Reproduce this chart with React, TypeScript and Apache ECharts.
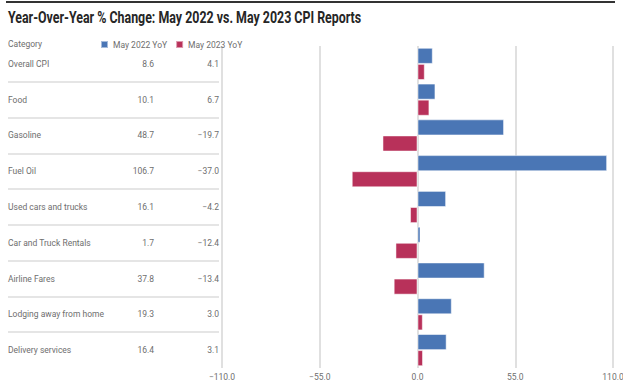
import React, { useEffect, useRef } from "react";
import * as echarts from "echarts";

const categories = [
  "Overall CPI",
  "Food",
  "Gasoline",
  "Fuel Oil",
  "Used cars and trucks",
  "Car and Truck Rentals",
  "Airline Fares",
  "Lodging away from home",
  "Delivery services",
];
const may2022 = [8.6, 10.1, 48.7, 106.7, 16.1, 1.7, 37.8, 19.3, 16.4];
const may2023 = [4.1, 6.7, -19.7, -37.0, -4.2, -12.4, -13.4, 3.0, 3.1];
const seriesNames = ["May 2022 YoY", "May 2023 YoY"];
const xTicks = [-110, -55, 0, 55, 110];
const titleText = "Year-Over-Year % Change: May 2022 vs. May 2023 CPI Reports";

const FONT = "Roboto, 'DejaVu Sans Condensed', sans-serif";
const BLUE = "#4a76b5";
const RED = "#b8315a";
const TXT = "#6e6e6e";

const fmt = (v: number) => (v < 0 ? "\u2212" + Math.abs(v).toFixed(1) : v.toFixed(1));

export default function App() {
  const ref = useRef<HTMLDivElement>(null);
  useEffect(() => {
    if (!ref.current) return;
    const chart = echarts.init(ref.current, null, { renderer: "svg" });
    const gridTop = 46;
    const gridBottom = 12;
    chart.setOption({
      animation: false,
      backgroundColor: "#ffffff",
      textStyle: { fontFamily: FONT },
      legend: {
        data: seriesNames,
        left: 100,
        top: 40,
        padding: 0,
        icon: "rect",
        itemWidth: 7,
        itemHeight: 7,
        itemGap: 8,
        textStyle: { fontFamily: FONT, fontSize: 8.5, color: TXT },
      },
      graphic: [
        {
          type: "rect",
          shape: { x: 6, y: 1, width: 609, height: 2 },
          style: { fill: "#333" },
        },
        {
          type: "text",
          x: 8,
          y: 9,
          scaleX: 0.73,
          style: {
            text: titleText,
            fontFamily: FONT,
            fontSize: 17,
            fontWeight: "bold",
            fill: "#262626",
          },
        },
        {
          type: "text",
          left: 8,
          top: 39,
          style: { text: "Category", fontFamily: FONT, fontSize: 8.5, fill: TXT },
        },
      ],
      grid: [
        { left: 222, right: 10, top: gridTop, bottom: gridBottom, outerBoundsMode: "none", containLabel: false },
        { left: 8, right: 404, top: gridTop, bottom: gridBottom, outerBoundsMode: "none", containLabel: false },
      ],
      xAxis: [
        {
          type: "value",
          gridIndex: 0,
          min: -110,
          max: 110,
          interval: 55,
          axisLine: { show: false },
          axisTick: { show: false },
          axisLabel: {
            fontFamily: FONT,
            fontSize: 8.5,
            color: TXT,
            margin: 4,
            formatter: (v: number) => (xTicks.includes(v) ? fmt(v) : ""),
          },
          splitLine: { show: true, lineStyle: { color: "#d6d6d6", width: 1.5 } },
        },
        {
          type: "value",
          gridIndex: 1,
          min: 0,
          max: 1,
          show: false,
        },
      ],
      yAxis: [
        {
          type: "category",
          gridIndex: 0,
          data: categories,
          inverse: true,
          axisLine: { show: false },
          axisTick: { show: false },
          splitLine: { show: false },
          axisLabel: {
            margin: 3,
            formatter: (val: string, idx: number) =>
              `{a|${val}}{b|${fmt(may2022[idx])}}{c|${fmt(may2023[idx])}}`,
            rich: {
              a: { width: 96, align: "left", fontFamily: FONT, fontSize: 8.5, color: TXT },
              b: { width: 50, align: "right", fontFamily: FONT, fontSize: 8.5, color: TXT },
              c: { width: 65, align: "right", fontFamily: FONT, fontSize: 8.5, color: TXT },
            },
          },
        },
        {
          type: "value",
          gridIndex: 1,
          min: 0,
          max: categories.length,
          interval: 1,
          inverse: true,
          axisLine: { show: false },
          axisTick: { show: false },
          axisLabel: { show: false },
          splitLine: {
            show: true,
            showMinLine: false,
            showMaxLine: false,
            lineStyle: { color: "#dcdcdc", width: 1.5 },
          },
        },
      ],
      series: [
        {
          name: seriesNames[0],
          type: "bar",
          xAxisIndex: 0,
          yAxisIndex: 0,
          data: may2022,
          barGap: "0%",
          barCategoryGap: "10%",
          itemStyle: { color: BLUE, borderColor: "rgba(255,255,255,0.5)", borderWidth: 1 },
        },
        {
          name: seriesNames[1],
          type: "bar",
          xAxisIndex: 0,
          yAxisIndex: 0,
          data: may2023,
          barGap: "0%",
          barCategoryGap: "10%",
          itemStyle: { color: RED, borderColor: "rgba(255,255,255,0.5)", borderWidth: 1 },
        },
      ],
    });
    return () => chart.dispose();
  }, []);
  return (
    <div
      ref={ref}
      style={{ position: "fixed", left: 0, top: 0, width: 623, height: 380, background: "#fff" }}
    />
  );
}
